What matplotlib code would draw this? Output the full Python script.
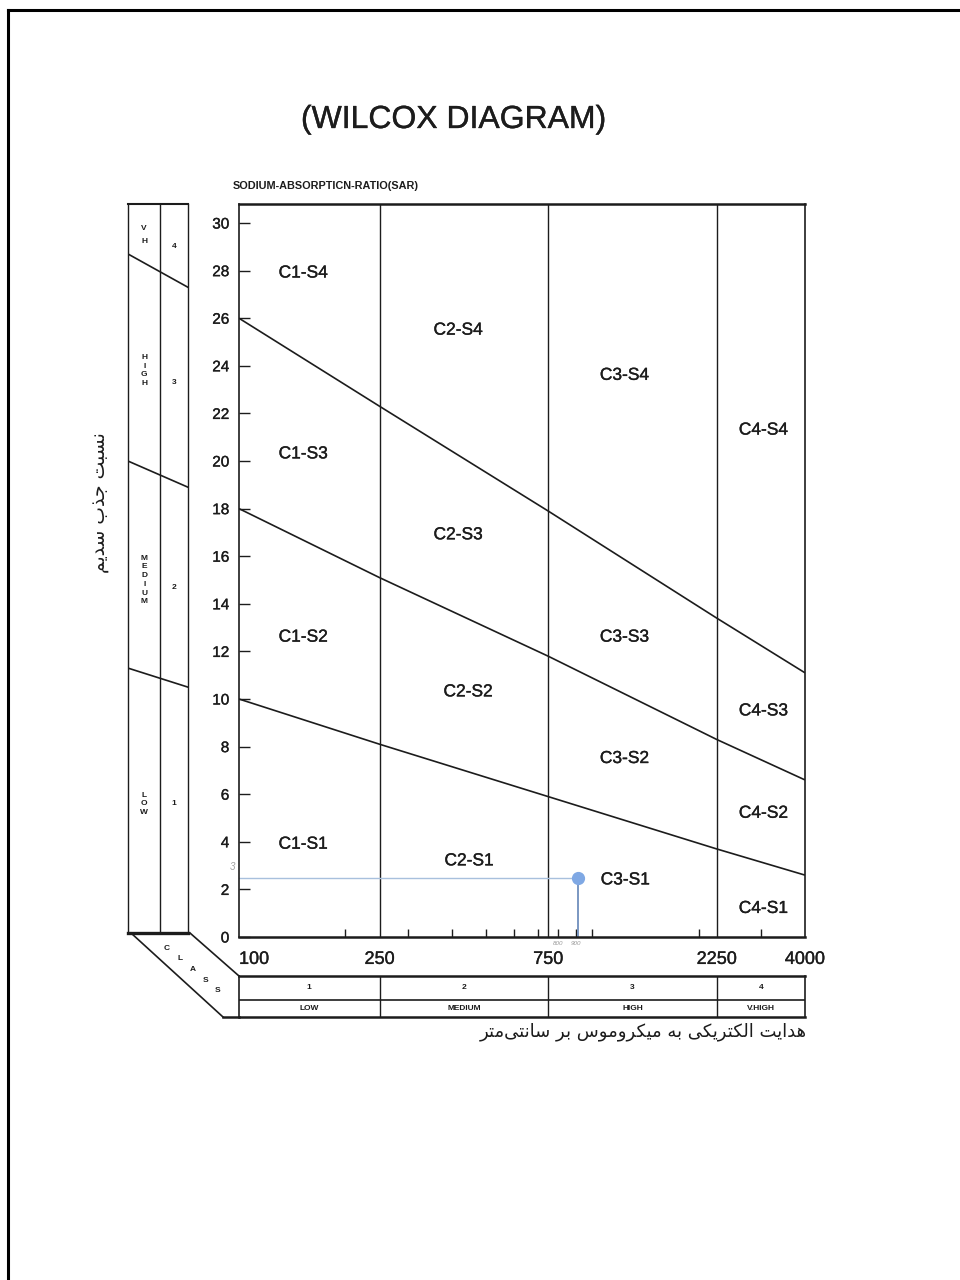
import matplotlib

matplotlib.use("Agg")
import matplotlib.pyplot as plt
import matplotlib.patheffects as pe
from matplotlib.lines import Line2D
import numpy as np

plt.rcParams['font.family'] = ['Liberation Sans', 'DejaVu Sans']

INK = '#1c1c1c'
# scanned print looks a little heavier than a clean font
THICK = [pe.withStroke(linewidth=0.25, foreground=INK)]

# --- data -----------------------------------------------------------------
ec_bounds = [250, 750, 2250]
ec_tick_values = [100, 250, 750, 2250, 4000]
ec_tick_labels = ['100', '250', '750', '2250', '4000']
ec_minor_ticks = [200, 300, 400, 500, 600, 700, 800, 900, 1000, 2000, 3000]
sar_ticks = list(range(0, 31, 2))

line_ec = [100, 250, 750, 2250, 4000]
s4_s3_sar = [26.0, 22.3, 17.9, 13.4, 11.1]
s3_s2_sar = [18.0, 15.1, 11.8, 8.3, 6.6]
s2_s1_sar = [10.0, 8.1, 5.9, 3.7, 2.6]

zone_labels = ['C1-S4', 'C1-S3', 'C1-S2', 'C1-S1',
               'C2-S4', 'C2-S3', 'C2-S2', 'C2-S1',
               'C3-S4', 'C3-S3', 'C3-S2', 'C3-S1',
               'C4-S4', 'C4-S3', 'C4-S2', 'C4-S1']
zone_ec = [152, 152, 152, 152,
           417, 417, 445, 448,
           1233, 1233, 1233, 1240,
           3050, 3050, 3050, 3050]
zone_sar = [27.9, 20.3, 12.6, 3.9,
            25.5, 16.9, 10.3, 3.2,
            23.6, 12.6, 7.5, 2.4,
            21.3, 9.5, 5.2, 1.2]

sample_ec = 910
sample_sar = 2.5

# salinity classes (bottom strip)
c_class_edges = [100, 250, 750, 2250, 4000]
c_class_num = ['1', '2', '3', '4']
c_class_name = ['LOW', 'MEDIUM', 'HIGH', 'V.HIGH']

# sodium classes (left strip)
s_class_num = ['4', '3', '2', '1']
s_class_num_sar = [29.0, 23.3, 14.7, 5.6]
s_class_name = ['VH', 'HIGH', 'MEDIUM', 'LOW']
s_class_name_sar = [29.5, 23.8, 15.0, 5.6]
s_strip_left = [28.7, 20.0, 11.3]
s_strip_right = [27.3, 18.9, 10.5]

y_label_fa = 'نسبت جذب سدیم'
x_label_fa = 'هدایت الکتریکی به میکروموس بر سانتی\u200cمتر'

# --- tiny Persian shaper (matplotlib has no complex text layout) ---------
FORMS = {
    'ا': ('\uFE8D', '\uFE8E', None, None),
    'ب': ('\uFE8F', '\uFE90', '\uFE91', '\uFE92'),
    'ت': ('\uFE95', '\uFE96', '\uFE97', '\uFE98'),
    'ج': ('\uFE9D', '\uFE9E', '\uFE9F', '\uFEA0'),
    'د': ('\uFEA9', '\uFEAA', None, None),
    'ذ': ('\uFEAB', '\uFEAC', None, None),
    'ر': ('\uFEAD', '\uFEAE', None, None),
    'س': ('\uFEB1', '\uFEB2', '\uFEB3', '\uFEB4'),
    'ل': ('\uFEDD', '\uFEDE', '\uFEDF', '\uFEE0'),
    'م': ('\uFEE1', '\uFEE2', '\uFEE3', '\uFEE4'),
    'ن': ('\uFEE5', '\uFEE6', '\uFEE7', '\uFEE8'),
    'ه': ('\uFEE9', '\uFEEA', '\uFEEB', '\uFEEC'),
    'و': ('\uFEED', '\uFEEE', None, None),
    'ک': ('\uFB8E', '\uFB8F', '\uFB90', '\uFB91'),
    'ی': ('\uFBFC', '\uFBFD', '\uFBFE', '\uFBFF'),
}


def shape_fa(text):
    out = []
    for i, ch in enumerate(text):
        if ch not in FORMS:
            out.append('' if ch == '\u200c' else ch)
            continue
        iso, fin, ini, med = FORMS[ch]
        prev = text[i - 1] if i > 0 else ''
        nxt = text[i + 1] if i + 1 < len(text) else ''
        join_prev = prev in FORMS and FORMS[prev][2] is not None
        join_next = ini is not None and nxt in FORMS
        if join_prev and join_next:
            out.append(med)
        elif join_prev:
            out.append(fin)
        elif join_next:
            out.append(ini)
        else:
            out.append(iso)
    return ''.join(out)[::-1]


W, H = 960, 1280


def fx(x):
    return x / W


def fy(y):
    return 1 - y / H


fig = plt.figure(figsize=(9.6, 12.8), dpi=100)

# --- main Wilcox panel ----------------------------------------------------
ax = fig.add_axes([fx(239), fy(937), (805 - 239) / W, (937 - 204) / H])
ax.set_xscale('log')
ax.set_xlim(100, 4000)
ax.set_ylim(0, 30.8)

for line in (s4_s3_sar, s3_s2_sar, s2_s1_sar):
    ax.plot(line_ec, line, color=INK, lw=1.2, solid_capstyle='butt')
for b in ec_bounds:
    ax.axvline(b, color=INK, lw=1.0)

for lab, x, y in zip(zone_labels, zone_ec, zone_sar):
    ax.text(x, y, lab, ha='center', va='center', fontsize=12.5, color=INK,
            path_effects=THICK)

# the plotted sample
ax.plot([100, sample_ec], [sample_sar, sample_sar], color='#a8c0dd', lw=1.0)
ax.plot([sample_ec, sample_ec], [0, sample_sar], color='#6f8fbd', lw=1.3)
ax.plot([sample_ec], [sample_sar], 'o', ms=8.5, color='#7fa8e4', mec='#7fa8e4')
ax.annotate('3', (100, 2.95), xytext=(-3, 0), textcoords='offset points',
            ha='right', va='center', fontsize=7, color='#a0a0a0', style='italic')
for v in (800, 900):
    ax.annotate(str(v), (v, 0), xytext=(0, -3), textcoords='offset points',
                ha='center', va='top', fontsize=4.5, color='#999999', style='italic')

ax.set_yticks(sar_ticks)
ax.set_yticklabels([str(t) for t in sar_ticks])
ax.tick_params(axis='y', direction='in', length=8, width=1.0, pad=7,
               labelsize=11, colors=INK)
ax.set_xticks(ec_tick_values)
ax.set_xticks(ec_minor_ticks, minor=True)
ax.set_xticklabels(ec_tick_labels)
ax.xaxis.set_minor_formatter(matplotlib.ticker.NullFormatter())
ax.tick_params(axis='x', which='major', length=0, pad=10, labelsize=13, colors=INK)
ax.tick_params(axis='x', which='minor', direction='in', length=6, width=1.0,
               colors=INK)
ax.get_xticklabels()[0].set_horizontalalignment('left')
for lab in ax.get_xticklabels() + ax.get_yticklabels():
    lab.set_path_effects(THICK)
for side, lw in (('top', 1.8), ('bottom', 1.8), ('left', 1.2), ('right', 1.2)):
    ax.spines[side].set_linewidth(lw)
    ax.spines[side].set_color(INK)

# --- left strip: sodium hazard classes -----------------------------------
axs = fig.add_axes([fx(128), fy(933), 60 / W, (933 - 204) / H])
axs.set_xlim(0, 1)
axs.set_ylim(0.17, 30.8)
axs.set_xticks([])
axs.set_yticks([])
axs.axvline(0.533, color=INK, lw=1.0)
for yl, yr in zip(s_strip_left, s_strip_right):
    axs.plot([0, 1], [yl, yr], color=INK, lw=1.2)
for name, y in zip(s_class_name, s_class_name_sar):
    axs.text(0.27, y, '\n'.join(name), ha='center', va='center', fontsize=6,
             fontweight='bold', color=INK,
             linespacing=2.1 if name == 'VH' else 1.35)
for num, y in zip(s_class_num, s_class_num_sar):
    axs.text(0.77, y, num, ha='center', va='center', fontsize=6,
             fontweight='bold', color=INK)
for side, lw in (('top', 1.5), ('bottom', 2.4), ('left', 1.0), ('right', 1.0)):
    axs.spines[side].set_linewidth(lw)
    axs.spines[side].set_color(INK)

# --- bottom strip: salinity hazard classes --------------------------------
axb = fig.add_axes([fx(239), fy(1017), (805 - 239) / W, (1017 - 976) / H])
axb.set_xscale('log')
axb.set_xlim(100, 4000)
axb.set_ylim(0, 1)
axb.set_xticks([])
axb.set_yticks([])
axb.minorticks_off()
axb.axhline(0.415, color=INK, lw=1.2)
for b in c_class_edges[1:-1]:
    axb.axvline(b, color=INK, lw=1.0)
for i, (num, name) in enumerate(zip(c_class_num, c_class_name)):
    xm = np.sqrt(c_class_edges[i] * c_class_edges[i + 1])
    axb.text(xm, 0.71, num, ha='center', va='center', fontsize=6,
             fontweight='bold', color=INK)
    axb.text(xm, 0.21, name, ha='center', va='center', fontsize=6,
             fontweight='bold', color=INK)
for side, lw in (('top', 1.8), ('bottom', 1.8), ('left', 1.2), ('right', 1.2)):
    axb.spines[side].set_linewidth(lw)
    axb.spines[side].set_color(INK)

# --- "CLASS" corner band --------------------------------------------------
for (x0, y0), (x1, y1) in [((131, 933), (223, 1017)),
                           ((190, 933), (239, 976)),
                           ((223, 1017), (239, 1017))]:
    fig.add_artist(Line2D([fx(x0), fx(x1)], [fy(y0), fy(y1)],
                          transform=fig.transFigure, color=INK,
                          lw=1.8 if y0 == y1 else 1.2))
for ch, t in zip('CLASS', np.linspace(0, 1, 5)):
    fig.text(fx(167 + 51 * t), fy(948 + 43 * t), ch, ha='center', va='center',
             fontsize=6, fontweight='bold', color=INK)

# --- page frame from the scan ---------------------------------------------
fig.add_artist(Line2D([fx(8), fx(8)], [fy(10), 0], transform=fig.transFigure,
                      color='black', lw=2.2))
fig.add_artist(Line2D([fx(8), 1], [fy(10), fy(10)], transform=fig.transFigure,
                      color='black', lw=2.2))

# --- titles and labels ----------------------------------------------------
fig.text(fx(454), fy(120), '(WILCOX DIAGRAM)', ha='center', va='center',
         fontsize=23, color=INK, path_effects=THICK)
fig.text(fx(233), fy(186), 'SODIUM-ABSORPTICN-RATIO(SAR)', ha='left',
         va='center', fontsize=7.8, fontweight='bold', color=INK)
fig.text(fx(100), fy(503), shape_fa(y_label_fa), ha='center', va='center',
         rotation=90, fontsize=13.5, color=INK, family=['DejaVu Sans'])
fig.text(fx(807), fy(1032), shape_fa(x_label_fa), ha='right', va='center',
         fontsize=13, color=INK, family=['DejaVu Sans'])

fig.savefig('out.png', dpi=100, facecolor='white')
